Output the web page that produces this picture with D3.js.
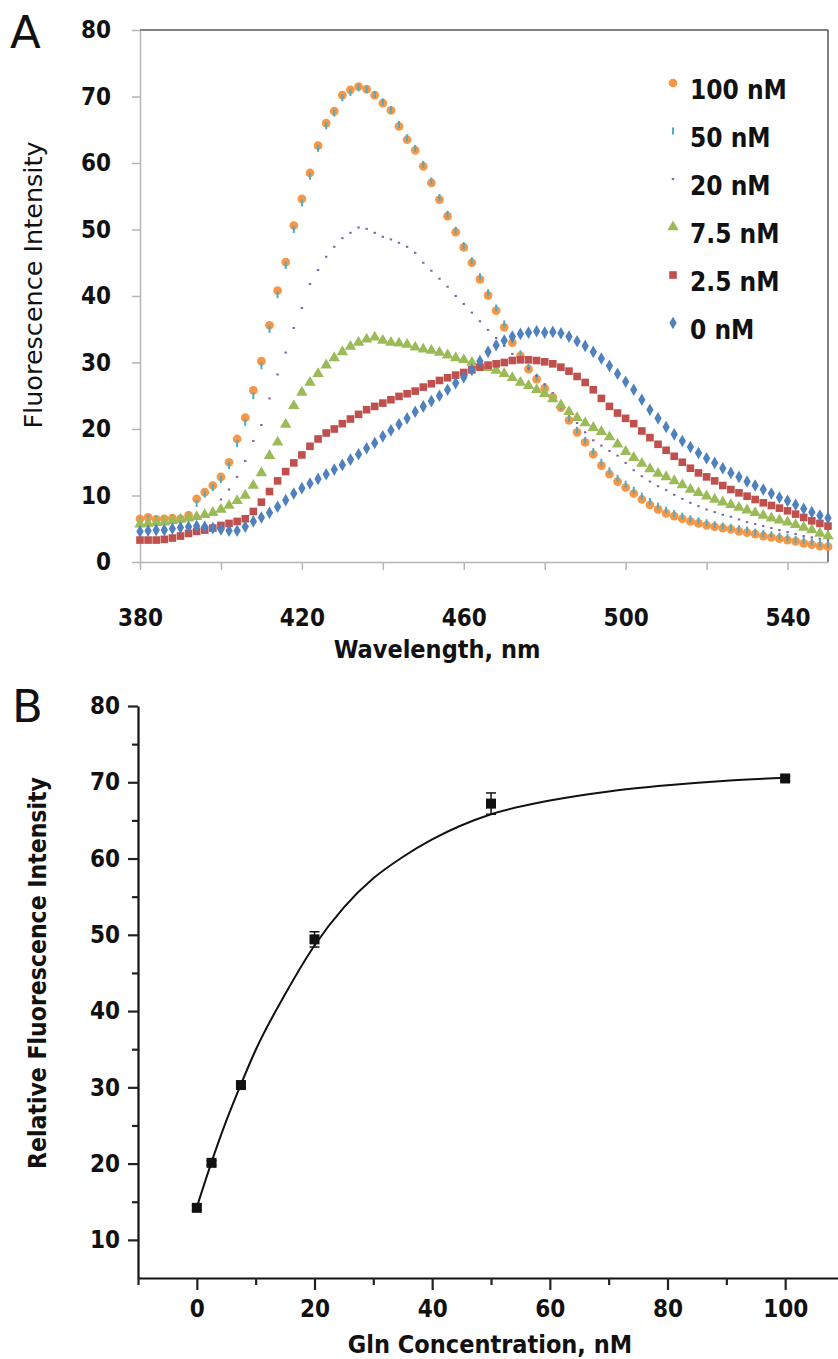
<!DOCTYPE html>
<html><head><meta charset="utf-8">
<script src="https://cdn.jsdelivr.net/npm/d3@7"></script>
<style>body{margin:0;background:#fff}svg{display:block}
.cf{font-family:'DejaVu Sans Condensed','DejaVu Sans',sans-serif;font-stretch:condensed;font-weight:bold}</style>
</head><body>
<script>
// ---------- Panel A data (wavelength every 2 nm, 380..550) ----------
const wavelengths = d3.range(380, 551, 2);
const seriesNames = ["100 nM", "50 nM", "20 nM", "7.5 nM", "2.5 nM", "0 nM"];
const nM100 = [6.5,6.7,6.4,6.5,6.6,6.5,7.0,9.5,10.5,11.5,12.8,15.0,18.5,21.7,25.8,30.2,35.6,40.8,45.1,50.6,54.6,58.5,62.6,66.0,67.8,70.2,71.0,71.5,71.1,70.2,69.0,67.9,65.5,63.5,61.9,59.5,57.0,54.5,52.0,49.6,47.3,45.0,42.5,40.1,37.8,35.3,33.0,31.0,29.0,27.5,26.1,24.8,23.2,21.3,19.5,18.0,16.2,14.5,13.2,12.1,11.2,10.3,9.4,8.6,7.9,7.3,6.9,6.5,6.1,5.8,5.5,5.3,5.1,4.9,4.6,4.4,4.2,3.9,3.7,3.5,3.3,3.1,2.8,2.6,2.4,2.3];
const nM50 = [6.2,6.5,6.4,6.3,6.6,6.5,7.1,8.8,10.2,11.2,12.4,14.5,17.8,21.0,25.0,29.5,35.0,40.2,44.6,50.0,54.0,58.0,62.2,65.6,67.5,69.8,70.6,71.3,71.0,70.3,69.2,68.0,65.8,63.8,62.2,59.8,57.3,54.8,52.3,49.9,47.6,45.3,42.9,40.5,38.2,35.8,33.4,31.3,29.3,27.8,26.4,25.0,23.4,21.6,19.8,18.3,16.6,15.0,13.7,12.6,11.7,10.8,9.9,9.1,8.4,7.8,7.3,6.9,6.5,6.2,5.9,5.6,5.4,5.2,5.0,4.8,4.5,4.3,4.1,3.9,3.7,3.4,3.2,3.0,2.8,2.6];
const nM20 = [6.0,6.0,6.0,5.9,6.0,6.1,6.3,6.6,7.0,8.0,9.4,10.9,12.8,15.2,18.2,20.6,24.6,28.2,31.5,35.2,38.2,41.8,43.9,45.9,47.4,48.7,49.5,50.3,50.1,49.5,48.9,48.5,48.0,47.4,46.5,45.0,43.8,42.6,41.4,40.0,38.8,37.5,36.2,34.9,33.7,32.5,31.3,30.3,29.1,28.0,26.7,25.4,23.8,22.3,20.9,19.5,18.3,17.5,16.7,16.0,14.9,13.8,12.9,12.1,11.4,10.8,10.1,9.5,8.9,8.4,7.9,7.5,7.1,6.8,6.4,6.0,5.7,5.4,5.1,4.8,4.5,4.2,3.9,3.7,3.5,3.3];
const nM7_5 = [5.7,5.8,5.9,6.0,6.2,6.4,6.6,6.8,7.1,7.4,7.9,8.5,9.2,10.0,11.5,13.4,16.0,18.0,20.7,23.5,25.5,27.0,28.3,29.6,30.7,31.6,32.4,33.0,33.5,33.8,33.3,33.0,32.9,32.7,32.3,32.0,31.8,31.5,31.1,30.7,30.4,30.0,29.6,29.2,28.8,28.3,27.7,27.0,26.5,25.9,25.3,24.5,23.6,22.6,21.7,20.9,20.2,19.6,18.8,17.7,16.6,15.7,14.8,14.0,13.3,12.8,12.2,11.6,10.9,10.4,9.9,9.4,9.0,8.6,8.2,7.8,7.4,7.0,6.6,6.3,6.0,5.6,5.2,4.8,4.3,3.9];
const nM2_5 = [3.3,3.3,3.3,3.4,3.6,3.9,4.3,4.6,4.8,5.1,5.5,5.8,6.1,6.5,7.6,9.0,10.6,12.2,13.6,14.9,16.1,17.4,18.5,19.4,20.0,20.8,21.5,22.2,22.9,23.4,23.9,24.4,24.9,25.3,25.7,26.3,26.8,27.3,27.7,28.1,28.5,28.9,29.3,29.6,29.8,30.0,30.3,30.4,30.4,30.3,30.1,29.8,29.3,28.7,27.9,27.0,25.9,24.6,23.4,22.4,21.6,20.8,19.7,18.7,17.7,16.8,15.9,15.0,14.1,13.4,12.8,12.2,11.5,10.9,10.4,9.9,9.4,8.9,8.5,8.1,7.7,7.2,6.7,6.2,5.8,5.4];
const nM0 = [4.6,4.7,4.8,4.8,5.0,5.2,5.3,5.4,5.3,5.1,4.9,4.7,4.7,5.3,6.1,6.7,7.4,8.3,9.3,10.3,11.1,11.8,12.5,13.2,13.9,14.6,15.4,16.2,17.1,17.9,18.9,19.8,20.7,21.6,22.6,23.4,24.2,25.0,25.9,26.9,27.8,28.9,30.2,31.6,32.6,33.3,33.9,34.3,34.5,34.7,34.5,34.6,34.4,33.9,33.2,32.5,31.6,30.6,29.5,28.3,27.1,25.9,24.4,22.9,21.6,20.3,19.2,18.2,17.3,16.4,15.6,14.9,14.1,13.4,12.8,12.1,11.5,10.9,10.3,9.7,9.2,8.6,8.0,7.5,7.0,6.6];
const seriesColors = ["#F79646", "#4BACC6", "#8064A2", "#9BBB59", "#C0504D", "#4F81BD"];
const yTicksA = [0,10,20,30,40,50,60,70,80];
const xTicksA = [380,400,420,440,460,480,500,520,540];
const xLabelsA = [380,420,460,500,540];

// ---------- Panel B data ----------
const glnConc = [0, 2.5, 7.5, 20, 50, 100];
const relIntensity = [14.2, 20.1, 30.3, 49.4, 67.2, 70.5];
const relError = [0.3, 0.3, 0.4, 1.0, 1.4, 0.3];
const fitConc = [0, 2.5, 5, 7.5, 10, 15, 20, 25, 30, 35, 40, 50, 60, 70, 80, 90, 100];
const fitValue = [14.3, 20.2, 25.6, 30.4, 34.9, 42.2, 48.6, 53.6, 57.4, 60.2, 62.5, 65.8, 67.6, 68.8, 69.6, 70.2, 70.6];
const yTicksB = [10,20,30,40,50,60,70,80];
const yMinorB = [15,25,35,45,55,65,75];
const xTicksB = [0,20,40,60,80,100];
const xMinorB = [-10,10,30,50,70,90,110];

const W = 838, H = 1359;
const svg = d3.select("body").append("svg").attr("width", W).attr("height", H)
  .style("font-family", "'DejaVu Sans', sans-serif");

// ================= Panel A =================
const xA = d3.scaleLinear().domain([380, 550]).range([140, 828]);
const yA = d3.scaleLinear().domain([0, 80]).range([562, 30]);
const gA = svg.append("g");

gA.append("line").attr("x1", 140).attr("x2", 828).attr("y1", yA(80)).attr("y2", yA(80)).attr("stroke", "#555").attr("stroke-width", 1.5);
gA.append("line").attr("x1", 828).attr("x2", 828).attr("y1", yA(80)).attr("y2", yA(0)).attr("stroke", "#555").attr("stroke-width", 1.5);

const axLeftA = gA.append("g").attr("transform", `translate(140,0)`)
  .call(d3.axisLeft(yA).tickValues(yTicksA).tickSize(8).tickSizeOuter(0).tickPadding(21));
axLeftA.select(".domain").attr("stroke", "#b5b5b5").attr("stroke-width", 1.5);
axLeftA.selectAll(".tick line").attr("stroke", "#b5b5b5").attr("stroke-width", 1.5);
axLeftA.selectAll(".tick text").attr("fill", "#111").attr("class", "cf").style("font-size", "24px");

const axBotA = gA.append("g").attr("transform", `translate(0,${yA(0)})`)
  .call(d3.axisBottom(xA).tickValues(xTicksA).tickSize(8).tickSizeOuter(0).tickPadding(39)
    .tickFormat(d => xLabelsA.includes(d) ? d : ""));
axBotA.select(".domain").attr("stroke", "#b5b5b5").attr("stroke-width", 1.5);
axBotA.selectAll(".tick line").attr("stroke", "#b5b5b5").attr("stroke-width", 1.5);
axBotA.selectAll(".tick text").attr("fill", "#111").attr("class", "cf").style("font-size", "24px");

const allSeries = [nM100, nM50, nM20, nM7_5, nM2_5, nM0];
const symTypes = [d3.symbolCircle, null, null, d3.symbolTriangle, d3.symbolSquare, d3.symbolDiamond];
const symSizes = [60, 0, 0, 56, 58, 46];

function drawMarker(g, i, x, y) {
  const c = seriesColors[i];
  if (i === 1) {
    g.append("rect").attr("x", x - 1).attr("y", y - 3.5).attr("width", 2).attr("height", 7).attr("fill", c);
  } else if (i === 2) {
    g.append("rect").attr("x", x - 1.2).attr("y", y - 1).attr("width", 2.4).attr("height", 2).attr("fill", c);
  } else {
    g.append("path").attr("transform", `translate(${x},${y})`)
      .attr("d", d3.symbol().type(symTypes[i]).size(symSizes[i])()).attr("fill", c);
  }
}

allSeries.forEach((vals, i) => {
  const g = gA.append("g");
  vals.forEach((v, k) => drawMarker(g, i, xA(wavelengths[k]), yA(v)));
});

const legG = gA.append("g");
seriesNames.forEach((n, i) => {
  const yy = 90 + i * 48;
  drawMarker(legG, i, 673, yy - 7);
  legG.append("text").attr("x", 690).attr("y", yy + 9).text(n)
    .attr("fill", "#111").attr("class", "cf").style("font-size", "26px");
});

gA.append("text").attr("x", 437).attr("y", 658).attr("text-anchor", "middle").attr("class", "cf")
  .style("font-size", "25px").attr("fill", "#111").text("Wavelength, nm");
gA.append("text").attr("transform", "translate(42,285) rotate(-90)").attr("text-anchor", "middle")
  .style("font-size", "25.5px").attr("fill", "#111").text("Fluorescence  Intensity");
gA.append("text").attr("x", 10).attr("y", 48).style("font-size", "45px").attr("fill", "#111").text("A");

// ================= Panel B =================
const xB = d3.scaleLinear().domain([-10, 110]).range([138, 844]);
const yB = d3.scaleLinear().domain([5, 80]).range([1278, 706]);
const gB = svg.append("g");

gB.append("g").attr("transform", `translate(${xB(-10)},0)`)
  .call(d3.axisLeft(yB).tickValues(yTicksB).tickSize(10).tickSizeOuter(0).tickPadding(8));
gB.append("g").attr("transform", `translate(${xB(-10)},0)`)
  .call(d3.axisLeft(yB).tickValues(yMinorB).tickSize(6).tickSizeOuter(0).tickFormat(""))
  .select(".domain").remove();
gB.append("g").attr("transform", `translate(0,${yB(5)})`)
  .call(d3.axisBottom(xB).tickValues(xTicksB).tickSize(12).tickSizeOuter(0).tickPadding(10));
gB.append("g").attr("transform", `translate(0,${yB(5)})`)
  .call(d3.axisBottom(xB).tickValues(xMinorB).tickSize(7).tickSizeOuter(0).tickFormat(""))
  .select(".domain").remove();
gB.selectAll(".domain").attr("stroke", "#111").attr("stroke-width", 2.2);
gB.selectAll(".tick line").attr("stroke", "#222").attr("stroke-width", 2.2);
gB.selectAll(".tick text").attr("fill", "#111").attr("class", "cf").style("font-size", "24px");

gB.append("path").datum(fitConc.map((c, k) => [c, fitValue[k]]))
  .attr("d", d3.line().x(d => xB(d[0])).y(d => yB(d[1])).curve(d3.curveMonotoneX))
  .attr("fill", "none").attr("stroke", "#111").attr("stroke-width", 2);

glnConc.forEach((c, k) => {
  const x = xB(c), y1 = yB(relIntensity[k] + relError[k]), y2 = yB(relIntensity[k] - relError[k]);
  gB.append("line").attr("x1", x).attr("x2", x).attr("y1", y1).attr("y2", y2).attr("stroke", "#111").attr("stroke-width", 1.5);
  [y1, y2].forEach(yy => gB.append("line").attr("x1", x - 5).attr("x2", x + 5).attr("y1", yy).attr("y2", yy).attr("stroke", "#111").attr("stroke-width", 1.5));
});
gB.selectAll("rect.pt").data(glnConc).enter().append("rect").attr("class", "pt")
  .attr("x", d => xB(d) - 5).attr("y", (d, k) => yB(relIntensity[k]) - 5)
  .attr("width", 10).attr("height", 10).attr("fill", "#111");

gB.append("text").attr("x", 490).attr("y", 1353).attr("text-anchor", "middle").attr("class", "cf")
  .style("font-size", "25px").attr("fill", "#111").text("Gln Concentration, nM");
gB.append("text").attr("transform", "translate(46,973) rotate(-90)").attr("text-anchor", "middle").attr("class", "cf")
  .style("font-size", "24.5px").attr("fill", "#111").text("Relative Fluorescence Intensity");
gB.append("text").attr("x", 12).attr("y", 722).style("font-size", "45px").attr("fill", "#111").text("B");
</script>
</body></html>
